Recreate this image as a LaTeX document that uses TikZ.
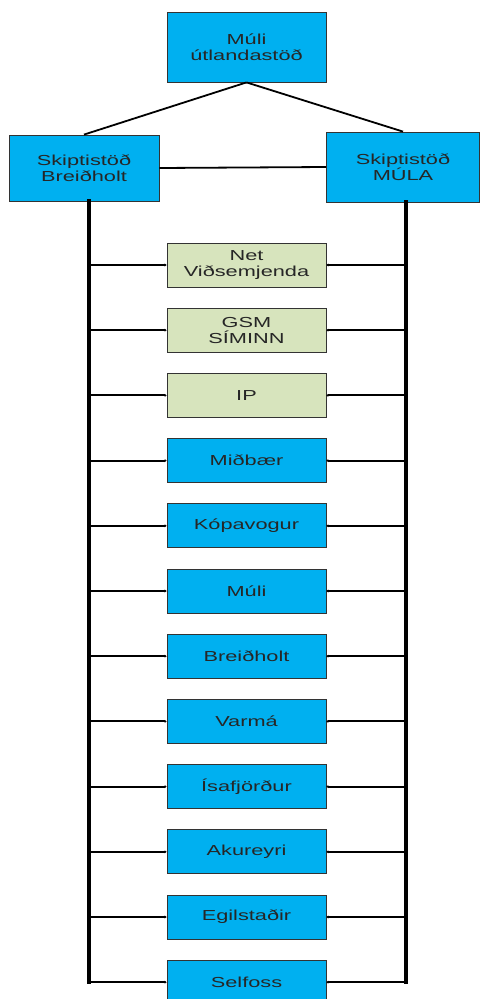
\documentclass[tikz,border=0pt]{standalone}
\usepackage{fontspec}
\setmainfont{Liberation Sans}[FakeStretch=1.5]
\usetikzlibrary{positioning,arrows.meta}
\definecolor{stodblar}{HTML}{00B0F0}
\definecolor{netgraenn}{HTML}{D7E4BD}

\begin{document}
\begin{tikzpicture}[x=1pt,y=1pt,node distance=65.2pt]
		% stílar
		\tikzstyle{stod} = [rectangle, draw=black!80, line width=0.8pt, fill=stodblar, align=center, text=black!85, font=\fontsize{14.5}{16}\selectfont]	% aðalstöðvar
		\tikzstyle{deild} = [stod, minimum width=159pt, minimum height=44pt]	% útstöðvar
		\tikzstyle{net} = [deild, fill=netgraenn]	% net
		\tikzstyle{lina} = [line width=1.8pt]	% milli stöðva
		\tikzstyle{bus} = [line width=4.2pt, line cap=rect]	% lóðréttar línur
		\tikzstyle{tenging} = [line width=2pt, -{Stealth[length=2pt,width=3pt]}]	% tengingar
		\useasboundingbox (0,0) rectangle (480,-999);
		\node (utl) [stod, minimum width=159pt, minimum height=70pt] at (246.5,-47) {Múli\\útlandastöð};
		\node (brd) [stod, minimum width=150pt, minimum height=66pt] at (84,-168) {Skiptistöð\\Breiðholt};
		\node (mula) [stod, minimum width=153pt, minimum height=70pt] at (403,-167) {Skiptistöð\\MÚLA};
		\node (vids) [net] at (246.5,-265) {Net\\Viðsemjenda};
		\node (gsm) [net, below of=vids] {GSM\\SÍMINN};
		\node (ip) [net, below of=gsm] {IP};
		\node (midb) [deild, below of=ip] {Miðbær};
		\node (kop) [deild, below of=midb] {Kópavogur};
		\node (muli) [deild, below of=kop] {Múli};
		\node (breid) [deild, below of=muli] {Breiðholt};
		\node (varma) [deild, below of=breid] {Varmá};
		\node (isa) [deild, below of=varma] {Ísafjörður};
		\node (akur) [deild, below of=isa] {Akureyri};
		\node (egil) [deild, below of=akur] {Egilstaðir};
		\node (self) [deild, below of=egil] {Selfoss};
		\coordinate (vbus) at ([xshift=5pt]brd.south);
		\coordinate (hbus) at ([xshift=3pt]mula.south);
		
		% línur
		\draw [lina](utl.south) -- (brd.north);
		\draw [lina](utl.south) -- (mula.north);
		\draw [lina](brd.east) -- (mula.west);
		\draw [bus](vbus) -- (vbus |- self.west);
		\draw [bus](hbus) -- (hbus |- self.east);
		\draw [tenging](vbus |- vids.west) -- (vids.west);
		\draw [tenging](hbus |- vids.east) -- (vids.east);
		\draw [tenging](vbus |- gsm.west) -- (gsm.west);
		\draw [tenging](hbus |- gsm.east) -- (gsm.east);
		\draw [tenging](vbus |- ip.west) -- (ip.west);
		\draw [tenging](hbus |- ip.east) -- (ip.east);
		\draw [tenging](vbus |- midb.west) -- (midb.west);
		\draw [tenging](hbus |- midb.east) -- (midb.east);
		\draw [tenging](vbus |- kop.west) -- (kop.west);
		\draw [tenging](hbus |- kop.east) -- (kop.east);
		\draw [tenging](vbus |- muli.west) -- (muli.west);
		\draw [tenging](hbus |- muli.east) -- (muli.east);
		\draw [tenging](vbus |- breid.west) -- (breid.west);
		\draw [tenging](hbus |- breid.east) -- (breid.east);
		\draw [tenging](vbus |- varma.west) -- (varma.west);
		\draw [tenging](hbus |- varma.east) -- (varma.east);
		\draw [tenging](vbus |- isa.west) -- (isa.west);
		\draw [tenging](hbus |- isa.east) -- (isa.east);
		\draw [tenging](vbus |- akur.west) -- (akur.west);
		\draw [tenging](hbus |- akur.east) -- (akur.east);
		\draw [tenging](vbus |- egil.west) -- (egil.west);
		\draw [tenging](hbus |- egil.east) -- (egil.east);
		\draw [tenging](vbus |- self.west) -- (self.west);
		\draw [tenging](hbus |- self.east) -- (self.east);
	\end{tikzpicture}
\end{document}
